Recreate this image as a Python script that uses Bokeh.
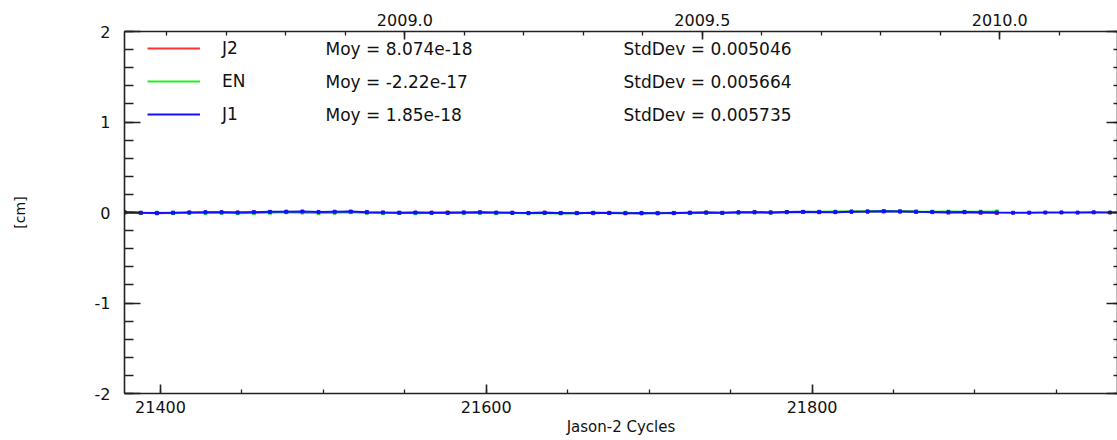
from bokeh.plotting import figure
from bokeh.models import (LinearAxis, Range1d, SingleIntervalTicker, PrintfTickFormatter,
                          Legend, LegendItem, Label, CustomJSTickFormatter)
from bokeh.embed import file_html
from bokeh.resources import INLINE

# ---- data ----
DAYS = [21378.0, 21387.9, 21397.8, 21407.7, 21417.7, 21427.6, 21437.5, 21447.4, 21457.3, 21467.2,
        21477.2, 21487.1, 21497.0, 21506.9, 21516.8, 21526.7, 21536.6, 21546.6, 21556.5, 21566.4,
        21576.3, 21586.2, 21596.1, 21606.1, 21616.0, 21625.9, 21635.8, 21645.7, 21655.6, 21665.6,
        21675.5, 21685.4, 21695.3, 21705.2, 21715.1, 21725.0, 21735.0, 21744.9, 21754.8, 21764.7,
        21774.6, 21784.5, 21794.5, 21804.4, 21814.3, 21824.2, 21834.1, 21844.0, 21854.0, 21863.9,
        21873.8, 21883.7, 21893.6, 21903.5, 21913.4, 21923.4, 21933.3, 21943.2, 21953.1, 21963.0,
        21972.9, 21982.9, 21992.8]

J1 = [0.002, -0.003, -0.006, -0.002, 0.001, 0.003, 0.002, 0.000, 0.004, 0.007,
      0.009, 0.011, 0.006, 0.008, 0.010, 0.004, 0.001, -0.002, 0.000, -0.003,
      -0.004, 0.001, 0.002, -0.001, -0.004, -0.006, -0.003, -0.005, -0.007, -0.004,
      -0.006, -0.008, -0.005, -0.009, -0.006, -0.003, -0.001, -0.004, 0.002, 0.004,
      0.001, 0.005, 0.007, 0.006, 0.004, 0.008, 0.010, 0.013, 0.011, 0.008,
      0.006, 0.003, 0.005, 0.002, -0.001, -0.003, -0.002, 0.000, 0.001, -0.001,
      0.002, 0.000, 0.001]

J2 = [0.001, -0.004, -0.009, -0.005, -0.002, 0.000, 0.003, -0.001, 0.002, 0.005,
      0.006, 0.003, -0.002, 0.004, 0.007, 0.001, -0.003, -0.006, -0.004, -0.002,
      0.001, -0.003, 0.000, -0.006, -0.002, -0.005, -0.001, -0.007, -0.004, -0.008,
      -0.003, -0.006, -0.009, -0.004, -0.007, -0.002, 0.001, -0.005, 0.000, 0.003,
      -0.002, 0.004, 0.006, 0.002, 0.005, 0.009, 0.012, 0.015, 0.013, 0.007,
      0.004, -0.001, 0.003, -0.004, -0.006]

EN = [0.000, -0.005, -0.003, -0.007, -0.004, -0.006, -0.003, -0.008, -0.005, -0.002,
      0.003, 0.001, -0.006, -0.002, 0.004, -0.003, -0.007, -0.004, -0.008, -0.005,
      -0.003, -0.006, -0.002, -0.008, -0.005, -0.009, -0.006, -0.010, -0.007, -0.004,
      -0.006, -0.003, -0.008, -0.005, -0.004, -0.007, -0.002, -0.006, -0.004, 0.001,
      -0.001, 0.003, 0.005, 0.008, 0.010, 0.012, 0.014, 0.016, 0.013, 0.010,
      0.008, 0.011, 0.007, 0.009, 0.012]

SERIES_NAMES = ["J2", "EN", "J1"]
SERIES_MEAN = ["Moy = 8.074e-18", "Moy = -2.22e-17", "Moy = 1.85e-18"]
SERIES_STD = ["StdDev = 0.005046", "StdDev = 0.005664", "StdDev = 0.005735"]
SERIES_COLORS = ["#ff3333", "#22ee22", "#1010ff"]

X_START, X_END = 21377.9, 21987.5
Y_START, Y_END = -2.0, 2.0
YEAR0_DAY = 21550.0   # 2009-01-01 in CNES days
X_LABEL = "Jason-2 Cycles"
Y_LABEL = "[cm]"

FONT = "DejaVu Sans"
AXIS_COLOR = "#222222"

p = figure(width=1117, height=440, output_backend="svg", toolbar_location=None,
           x_range=Range1d(X_START, X_END), y_range=Range1d(Y_START, Y_END),
           x_axis_location=None, y_axis_location=None,
           min_border_left=124, min_border_right=0, min_border_top=31, min_border_bottom=47)
p.grid.visible = False
p.outline_line_color = None
p.background_fill_color = "white"

p.extra_x_ranges = {"year": Range1d(2009 + (X_START - YEAR0_DAY) / 365.25,
                                    2009 + (X_END - YEAR0_DAY) / 365.25)}


def style(ax, major_in, minor_in, standoff, fs="16px"):
    ax.axis_line_color = AXIS_COLOR
    ax.axis_line_width = 1.6
    ax.major_tick_line_color = AXIS_COLOR
    ax.minor_tick_line_color = AXIS_COLOR
    ax.major_tick_line_width = 1.6
    ax.minor_tick_line_width = 1.3
    ax.major_tick_in = major_in
    ax.major_tick_out = 0
    ax.minor_tick_in = minor_in
    ax.minor_tick_out = 0
    ax.major_label_standoff = standoff
    ax.major_label_text_font = FONT
    ax.major_label_text_font_size = fs
    ax.major_label_text_color = "#111111"
    ax.axis_label_text_font = FONT
    ax.axis_label_text_font_style = "normal"
    ax.axis_label_text_color = "#111111"


bottom = LinearAxis(ticker=SingleIntervalTicker(interval=200, num_minor_ticks=4),
                    formatter=PrintfTickFormatter(format="%d"), axis_label=X_LABEL)
style(bottom, 9, 4, 7)
bottom.axis_label_text_font_size = "15px"
bottom.axis_label_standoff = 2
p.add_layout(bottom, "below")

top = LinearAxis(x_range_name="year",
                 ticker=SingleIntervalTicker(interval=0.5, num_minor_ticks=5),
                 formatter=PrintfTickFormatter(format="%.1f"))
style(top, 8, 4, 6)
p.add_layout(top, "above")

left = LinearAxis(ticker=SingleIntervalTicker(interval=1, num_minor_ticks=5),
                  formatter=PrintfTickFormatter(format="%d"), axis_label=Y_LABEL)
style(left, 16, 9, 14)
left.axis_label_text_font_size = "14px"
left.axis_label_standoff = 64
p.add_layout(left, "left")

right = LinearAxis(ticker=SingleIntervalTicker(interval=1, num_minor_ticks=5),
                   formatter=CustomJSTickFormatter(code="return ''"))
style(right, 11, 4, 0, "0px")
right.major_label_text_color = None
p.add_layout(right, "right")

# ---- series ----
data = {"J2": J2, "EN": EN, "J1": J1}
items = []
for name, color in zip(SERIES_NAMES, SERIES_COLORS):
    ys = data[name]
    xs = DAYS[:len(ys)]
    ln = p.line(xs, ys, line_color=color, line_width=2)
    p.scatter(xs, ys, marker="square", size=3, fill_color=color, line_color=color)
    items.append(LegendItem(label=name, renderers=[ln]))

legend = Legend(items=items, location=(23, 269), orientation="vertical",
                glyph_width=53, glyph_height=20, label_height=20, spacing=13,
                label_standoff=22, padding=0, margin=0,
                border_line_color=None, background_fill_alpha=0,
                label_text_font=FONT, label_text_font_size="17px", label_text_color="#111111")
p.add_layout(legend, "center")

row_y = [345, 312, 279]
for ry, mtxt, stxt in zip(row_y, SERIES_MEAN, SERIES_STD):
    p.add_layout(Label(x=201, y=ry, x_units="screen", y_units="screen", text=mtxt,
                       text_font=FONT, text_font_size="17px", text_baseline="middle",
                       text_color="#111111"))
    p.add_layout(Label(x=499, y=ry, x_units="screen", y_units="screen", text=stxt,
                       text_font=FONT, text_font_size="17px", text_baseline="middle",
                       text_color="#111111"))

open("out.html", "w").write(file_html(p, INLINE))
